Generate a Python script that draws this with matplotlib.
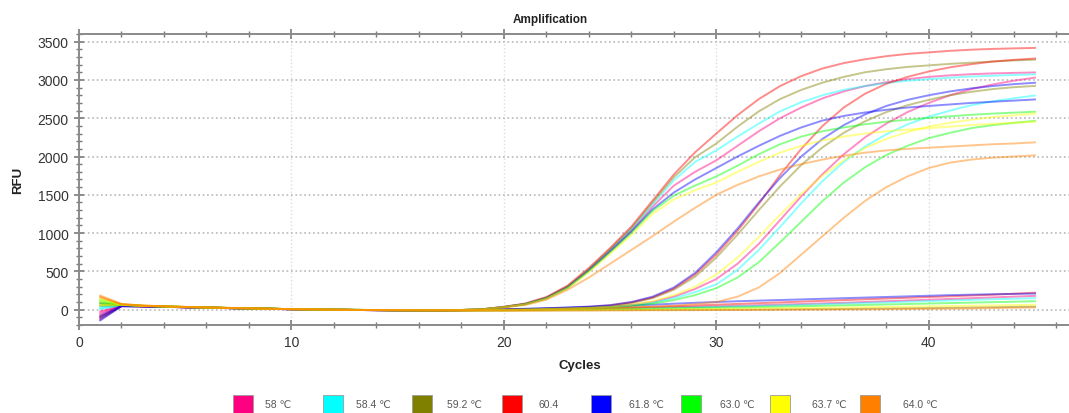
import matplotlib
matplotlib.use("Agg")
import matplotlib.pyplot as plt
from matplotlib.patches import Rectangle
from matplotlib.ticker import MultipleLocator

plt.rcParams["font.family"] = ["Liberation Sans", "DejaVu Sans"]

cycles = list(range(1, 46))

temps = ["58 ℃", "58.4 ℃", "59.2 ℃", "60.4", "61.8 ℃", "63.0 ℃", "63.7 ℃", "64.0 ℃"]
colors = ["#ff0080", "#00ffff", "#808000", "#ff0000", "#0000ff", "#00ff00", "#ffff00", "#ff8000"]

# early-rising wells (Ct ~ 25), one per annealing temperature
early_58 = [-60, 55, 45, 38, 32, 27, 21, 16, 11, 6, 2, -1, -4, -6, -8, -9, -8, -5, 5,
            34, 72, 150, 292, 515, 765, 1030, 1345, 1620, 1800, 1950, 2140, 2330, 2500,
            2640, 2760, 2850, 2920, 2970, 3010, 3040, 3060, 3075, 3085, 3092, 3098]
early_584 = [40, 58, 47, 40, 33, 27, 22, 17, 12, 7, 3, 0, -3, -5, -7, -8, -7, -4, 6,
             35, 74, 155, 300, 525, 780, 1050, 1375, 1690, 1930, 2080, 2260, 2430, 2590,
             2710, 2800, 2870, 2920, 2960, 2990, 3010, 3030, 3045, 3055, 3065, 3072]
early_592 = [90, 62, 49, 41, 34, 28, 22, 17, 12, 7, 3, 0, -3, -5, -7, -8, -7, -4, 6,
             36, 76, 158, 305, 530, 790, 1065, 1400, 1730, 1990, 2170, 2390, 2590, 2750,
             2870, 2965, 3040, 3100, 3140, 3170, 3190, 3210, 3225, 3240, 3255, 3265]
early_604 = [-90, 50, 44, 38, 32, 27, 21, 16, 11, 6, 2, -1, -4, -6, -8, -9, -8, -5, 5,
             38, 80, 165, 315, 545, 805, 1085, 1425, 1765, 2055, 2300, 2540, 2750, 2920,
             3050, 3150, 3220, 3270, 3310, 3340, 3360, 3380, 3395, 3405, 3412, 3418]
early_618 = [-110, 45, 42, 37, 31, 26, 21, 16, 11, 6, 2, -1, -4, -6, -8, -9, -8, -5, 5,
             34, 72, 150, 290, 510, 760, 1020, 1310, 1530, 1700, 1850, 2000, 2140, 2270,
             2380, 2470, 2530, 2575, 2610, 2640, 2660, 2680, 2700, 2715, 2730, 2745]
early_630 = [110, 65, 50, 42, 35, 28, 22, 17, 12, 7, 3, 0, -3, -5, -7, -8, -7, -4, 6,
             33, 70, 146, 285, 500, 745, 1000, 1290, 1490, 1620, 1740, 1880, 2030, 2160,
             2260, 2330, 2380, 2420, 2455, 2480, 2505, 2525, 2545, 2560, 2573, 2585]
early_637 = [150, 70, 52, 43, 35, 29, 23, 17, 12, 7, 3, 0, -3, -5, -7, -8, -7, -4, 5,
             33, 68, 142, 278, 490, 730, 975, 1250, 1440, 1560, 1660, 1800, 1930, 2050,
             2140, 2210, 2260, 2300, 2330, 2350, 2370, 2390, 2410, 2425, 2440, 2455]
early_640 = [185, 75, 54, 44, 36, 29, 23, 18, 12, 7, 3, 0, -3, -5, -7, -8, -7, -4, 5,
             30, 60, 130, 260, 420, 600, 780, 960, 1150, 1330, 1500, 1630, 1740, 1830,
             1900, 1960, 2010, 2050, 2080, 2100, 2115, 2130, 2145, 2160, 2170, 2185]

# late-rising wells (Ct ~ 31)
late_58 = [-40, 56, 46, 39, 33, 27, 21, 16, 11, 6, 2, -1, -4, -6, -8, -9, -9, -8, -6, -3, 2, 8, 15,
           25, 38, 60, 100, 170, 270, 400, 600, 860, 1170, 1480, 1770, 2030, 2250, 2430,
           2580, 2700, 2800, 2880, 2940, 2990, 3030]
late_584 = [20, 57, 47, 40, 33, 27, 22, 17, 12, 7, 3, 0, -3, -5, -7, -8, -8, -7, -5, -2, 3, 9, 15,
            22, 35, 55, 90, 150, 230, 330, 520, 780, 1080, 1390, 1680, 1930, 2130, 2290,
            2420, 2520, 2600, 2670, 2720, 2760, 2797]
late_592 = [70, 60, 48, 41, 34, 28, 22, 17, 12, 7, 3, 0, -3, -5, -7, -8, -8, -7, -4, 0, 6, 12, 20,
            30, 50, 85, 150, 260, 430, 680, 980, 1300, 1610, 1890, 2120, 2310, 2460, 2580,
            2670, 2740, 2800, 2845, 2880, 2905, 2922]
late_604 = [-130, 48, 43, 37, 32, 27, 21, 16, 11, 6, 2, -1, -4, -6, -8, -9, -9, -7, -4, 0, 6, 13, 22,
            35, 55, 95, 160, 275, 460, 720, 1030, 1380, 1760, 2100, 2400, 2640, 2820, 2950,
            3040, 3110, 3165, 3205, 3240, 3262, 3280]
late_618 = [-80, 50, 44, 38, 32, 27, 21, 16, 11, 6, 2, -1, -4, -6, -8, -9, -8, -6, -3, 2, 9, 17, 27,
            40, 60, 100, 170, 290, 480, 750, 1060, 1400, 1720, 2000, 2230, 2410, 2550, 2660,
            2740, 2800, 2850, 2890, 2920, 2945, 2963]
late_630 = [130, 66, 50, 42, 35, 28, 22, 17, 12, 7, 3, 0, -3, -5, -7, -8, -8, -7, -6, -4, 0, 6, 12,
            20, 30, 48, 78, 125, 190, 280, 420, 620, 880, 1150, 1420, 1660, 1860, 2020,
            2140, 2240, 2310, 2370, 2410, 2440, 2465]
late_637 = [60, 60, 48, 41, 34, 28, 22, 17, 12, 7, 3, 0, -3, -5, -7, -8, -8, -7, -5, -2, 3, 10, 17,
            25, 40, 65, 110, 190, 300, 460, 680, 950, 1240, 1510, 1750, 1950, 2110, 2230,
            2320, 2390, 2440, 2480, 2515, 2540, 2560]
late_640 = [170, 72, 53, 44, 36, 29, 23, 18, 12, 7, 3, 0, -3, -5, -7, -8, -9, -9, -8, -6, -2, 3, 9,
            15, 20, 28, 38, 52, 72, 100, 170, 290, 480, 720, 960, 1200, 1420, 1600,
            1740, 1850, 1920, 1960, 1985, 2000, 2015]

# no-template wells, drifting baseline only
ntc_58 = [-20, 54, 45, 38, 32, 27, 21, 16, 11, 6, 2, -1, -4, -6, -8, -9, -9, -8, -7,
          -5, 0, 4, 8, 12, 16, 20, 25, 30, 36, 42, 50, 58, 66, 74, 82, 90, 100, 110, 120,
          130, 140, 150, 160, 170, 180]
ntc_584 = [10, 56, 46, 39, 33, 27, 21, 16, 11, 6, 2, -1, -4, -6, -8, -9, -9, -8, -6,
           -5, -2, 2, 6, 10, 14, 18, 22, 27, 32, 38, 44, 50, 57, 64, 72, 80, 88, 96, 104,
           112, 120, 128, 136, 143, 150]
ntc_592 = [50, 58, 47, 40, 33, 27, 22, 17, 12, 7, 3, 0, -3, -5, -7, -8, -9, -10, -11,
           -12, -10, -9, -8, -7, -6, -5, -4, -3, -2, -1, 0, 2, 4, 6, 8, 10, 13, 16, 19,
           22, 25, 28, 32, 36, 40]
ntc_604 = [-100, 47, 42, 37, 31, 26, 21, 16, 11, 6, 2, -1, -4, -6, -8, -9, -9, -7, -4,
           0, 5, 10, 15, 20, 25, 30, 38, 45, 55, 65, 75, 85, 95, 105, 115, 125, 135, 145,
           155, 165, 175, 185, 195, 208, 222]
ntc_618 = [-140, 44, 41, 36, 31, 26, 21, 16, 11, 6, 2, -1, -4, -6, -8, -9, -8, -6, -2,
           5, 12, 20, 28, 36, 45, 55, 65, 78, 90, 100, 110, 118, 126, 134, 142, 150, 158,
           166, 174, 182, 190, 196, 202, 206, 210]
ntc_630 = [80, 62, 49, 41, 34, 28, 22, 17, 12, 7, 3, 0, -3, -5, -7, -8, -9, -9, -9,
           -8, -5, -2, 1, 4, 7, 10, 14, 18, 22, 26, 30, 35, 40, 45, 50, 56, 62, 68, 74,
           80, 86, 92, 98, 104, 110]
ntc_637 = [120, 66, 50, 42, 35, 28, 22, 17, 12, 7, 3, 0, -3, -5, -7, -8, -9, -10, -10,
           -10, -8, -6, -4, -2, 0, 2, 4, 6, 8, 10, 13, 16, 19, 22, 25, 28, 32, 36, 40,
           44, 48, 52, 56, 60, 64]
ntc_640 = [160, 70, 52, 43, 35, 29, 23, 18, 12, 7, 3, 0, -3, -5, -7, -8, -9, -11, -13,
           -15, -14, -13, -12, -11, -10, -9, -8, -7, -6, -5, -4, -3, -2, -1, 0, 2, 4, 6,
           8, 10, 13, 16, 20, 25, 30]

wells = [
    [early_58, late_58, ntc_58],
    [early_584, late_584, ntc_584],
    [early_592, late_592, ntc_592],
    [early_604, late_604, ntc_604],
    [early_618, late_618, ntc_618],
    [early_630, late_630, ntc_630],
    [early_637, late_637, ntc_637],
    [early_640, late_640, ntc_640],
]

fig = plt.figure(figsize=(10.69, 4.14), dpi=100)
ax = fig.add_axes([0.0739, 0.2126, 0.9261, 0.7029])

for col, group in zip(colors, wells):
    for rfu in group:
        assert len(rfu) == len(cycles)
        ax.plot(cycles, rfu, color=col, lw=1.4, alpha=0.45, zorder=3)

ax.set_xlim(0, 46.6)
ax.set_ylim(-200, 3600)
ax.xaxis.set_major_locator(MultipleLocator(10))
ax.xaxis.set_minor_locator(MultipleLocator(2))
ax.yaxis.set_major_locator(MultipleLocator(500))
ax.yaxis.set_minor_locator(MultipleLocator(100))
ax.grid(axis="y", which="major", ls=":", lw=1.2, color="#b8b8b8", zorder=0)
ax.grid(axis="x", which="major", ls=":", lw=1.0, color="#dcdcdc", zorder=0)

ax.tick_params(which="both", direction="inout", color="#7a7a7a", top=True,
               labelsize=10, labelcolor="#333333")
ax.tick_params(which="major", length=7, width=1.2, pad=4)
ax.tick_params(which="minor", length=5, width=1.0)
for side in ("left", "bottom", "top"):
    ax.spines[side].set_color("#8a8a8a")
    ax.spines[side].set_linewidth(1.4)
ax.spines["right"].set_visible(False)

fig.text(0.515, 0.952, "Amplification", ha="center", va="center",
         fontsize=8.5, fontweight="bold", color="#222222")
fig.text(0.5426, 0.116, "Cycles", ha="center", va="center",
         fontsize=9.5, fontweight="bold", color="#222222")
fig.text(0.0168, 0.565, "RFU", ha="center", va="center", rotation=90,
         fontsize=9.5, fontweight="bold", color="#222222")

# fixed-slot legend strip along the bottom edge
sq_w, sq_h = 20 / 1069, 18 / 414
for i, (lab, col) in enumerate(zip(temps, colors)):
    x0 = (233 + 89.5 * i) / 1069
    fig.patches.append(Rectangle((x0, 0.0), sq_w, sq_h, transform=fig.transFigure,
                                 facecolor=col, edgecolor="#9a9a9a", lw=0.6))
    fig.text(x0 + (32 + 1.6 * i) / 1069, 1 - 405 / 414, lab, ha="left", va="center",
             fontsize=7.5, color="#555555")

fig.savefig("out.png", dpi=100)
